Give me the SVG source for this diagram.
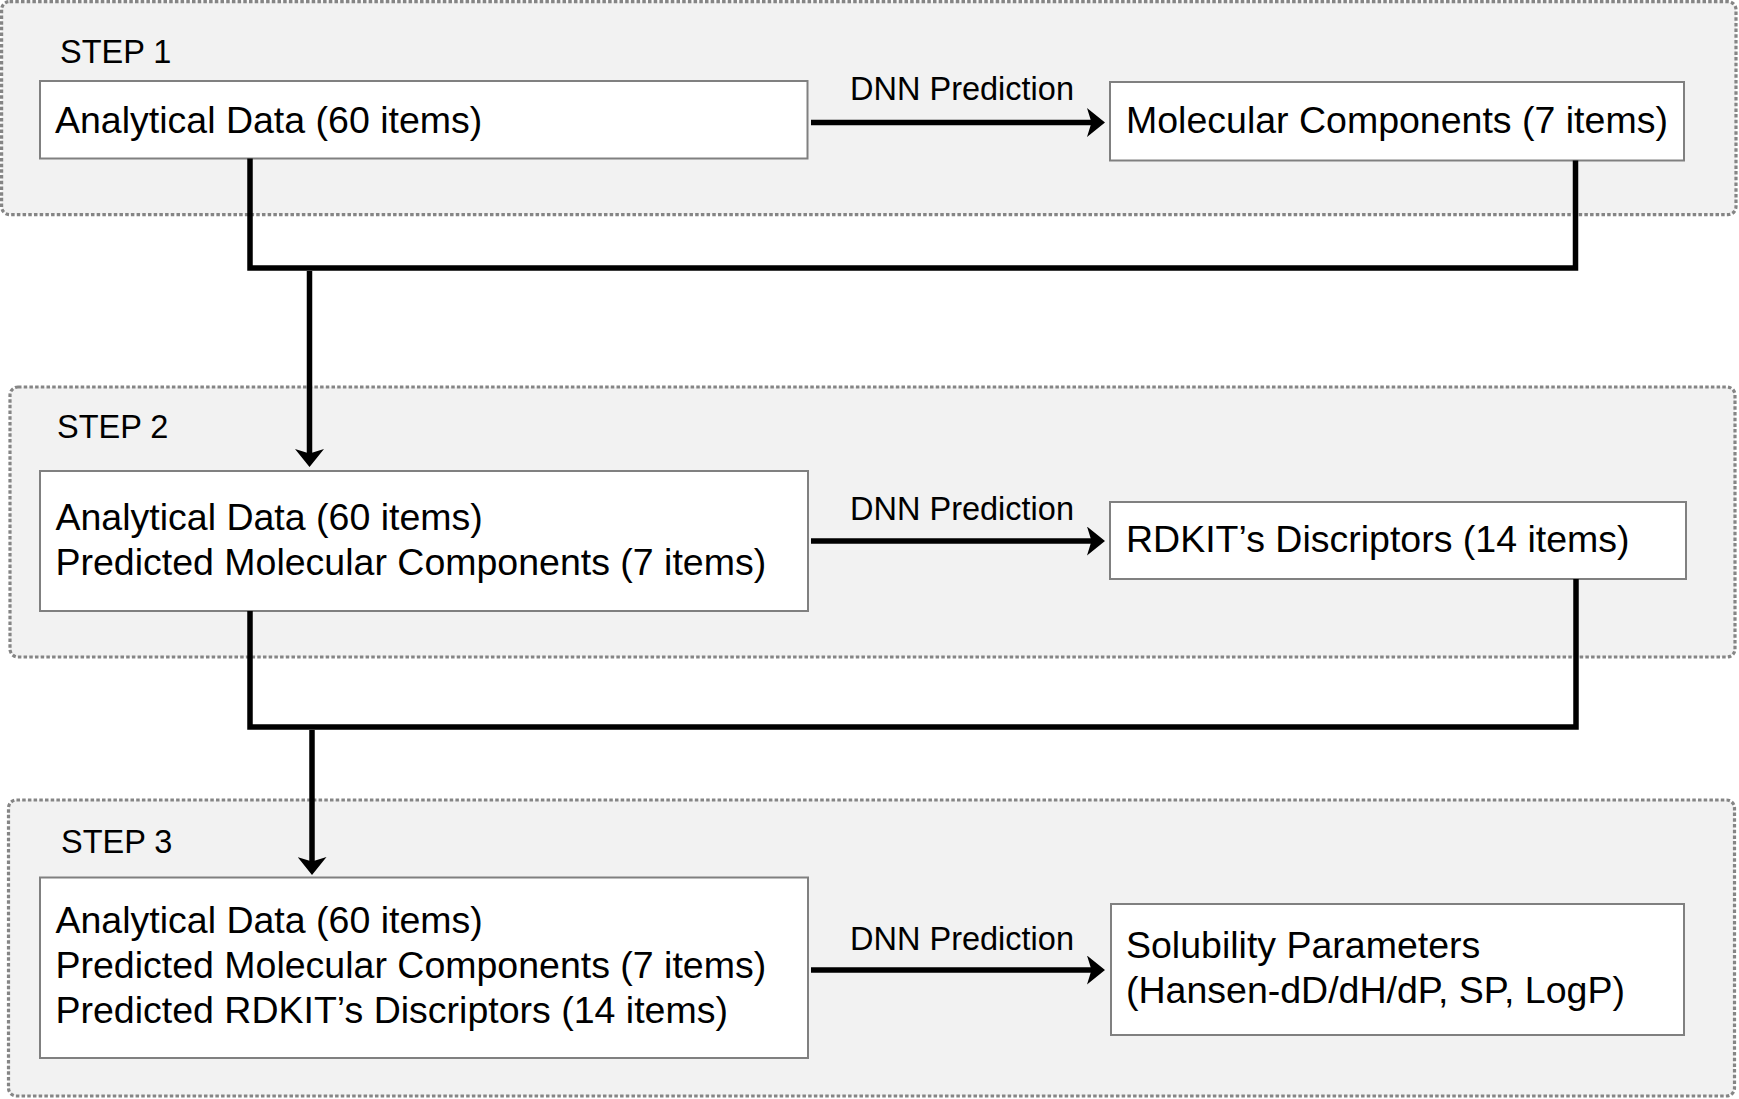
<svg xmlns="http://www.w3.org/2000/svg" width="1739" height="1099" viewBox="0 0 1739 1099">
<style>
.step{fill:#f2f2f2;stroke:#858585;stroke-width:3.2;stroke-dasharray:3.5 2.2}
.box{fill:#ffffff;stroke:#808080;stroke-width:2}
.t{font-family:"Liberation Sans",Arial,Helvetica,sans-serif;font-size:37.5px;fill:#000}
.s{font-family:"Liberation Sans",Arial,Helvetica,sans-serif;font-size:32.5px;fill:#000}
.c{fill:none;stroke:#000;stroke-width:5.5}
</style>
<defs>
<marker id="arr" markerUnits="userSpaceOnUse" viewBox="0 0 18 29" markerWidth="18" markerHeight="29" refX="5" refY="14.5" orient="auto">
<path d="M0,0 L18,14.5 L0,29 L4.5,14.5 Z" fill="#000"/>
</marker>
</defs>
<rect width="1739" height="1099" fill="#ffffff"/>
<g id="step1">
<rect class="step" x="1.6" y="1.6" width="1734.4" height="213" rx="8"/>
<text class="s" x="60" y="63">STEP 1</text>
</g>
<g id="step2">
<rect class="step" x="10" y="387" width="1725" height="270" rx="8"/>
<text class="s" x="57" y="438">STEP 2</text>
</g>
<g id="step3">
<rect class="step" x="8.5" y="800" width="1726" height="296" rx="8"/>
<text class="s" x="61" y="853">STEP 3</text>
</g>
<g id="s1-input">
<rect class="box" x="40" y="81" width="767.5" height="77.5"/>
<text class="t" x="55" y="132.7">Analytical Data (60 items)</text>
</g>
<g id="s1-output">
<rect class="box" x="1110" y="82" width="574" height="78.5"/>
<text class="t" x="1126" y="133">Molecular Components (7 items)</text>
</g>
<g id="s2-input">
<rect class="box" x="40" y="471" width="768" height="140"/>
<text class="t" x="55.5" y="530">Analytical Data (60 items)</text>
<text class="t" x="55.5" y="575">Predicted Molecular Components (7 items)</text>
</g>
<g id="s2-output">
<rect class="box" x="1110" y="502" width="576" height="77"/>
<text class="t" x="1126" y="551.7">RDKIT’s Discriptors (14 items)</text>
</g>
<g id="s3-input">
<rect class="box" x="40" y="877.5" width="768" height="180.5"/>
<text class="t" x="55.5" y="933.3">Analytical Data (60 items)</text>
<text class="t" x="55.5" y="978.3">Predicted Molecular Components (7 items)</text>
<text class="t" x="55.5" y="1023.3">Predicted RDKIT’s Discriptors (14 items)</text>
</g>
<g id="s3-output">
<rect class="box" x="1111" y="904" width="573" height="131"/>
<text class="t" x="1126" y="958.3">Solubility Parameters</text>
<text class="t" x="1126" y="1003.3">(Hansen-dD/dH/dP, SP, LogP)</text>
</g>
<g id="connectors">
<line class="c" x1="811" y1="122.5" x2="1092" y2="122.5" marker-end="url(#arr)"/>
<text class="s" x="962" y="100" text-anchor="middle">DNN Prediction</text>
<line class="c" x1="811" y1="541" x2="1092" y2="541" marker-end="url(#arr)"/>
<text class="s" x="962" y="520" text-anchor="middle">DNN Prediction</text>
<line class="c" x1="811" y1="970" x2="1092" y2="970" marker-end="url(#arr)"/>
<text class="s" x="962" y="950" text-anchor="middle">DNN Prediction</text>
<path class="c" d="M250,158.5 V268 H1575.5 V160.5"/>
<line class="c" x1="309.5" y1="271" x2="309.5" y2="454" marker-end="url(#arr)"/>
<path class="c" d="M250,611 V727 H1576 V579"/>
<line class="c" x1="312" y1="730" x2="312" y2="862" marker-end="url(#arr)"/>
</g>
</svg>
